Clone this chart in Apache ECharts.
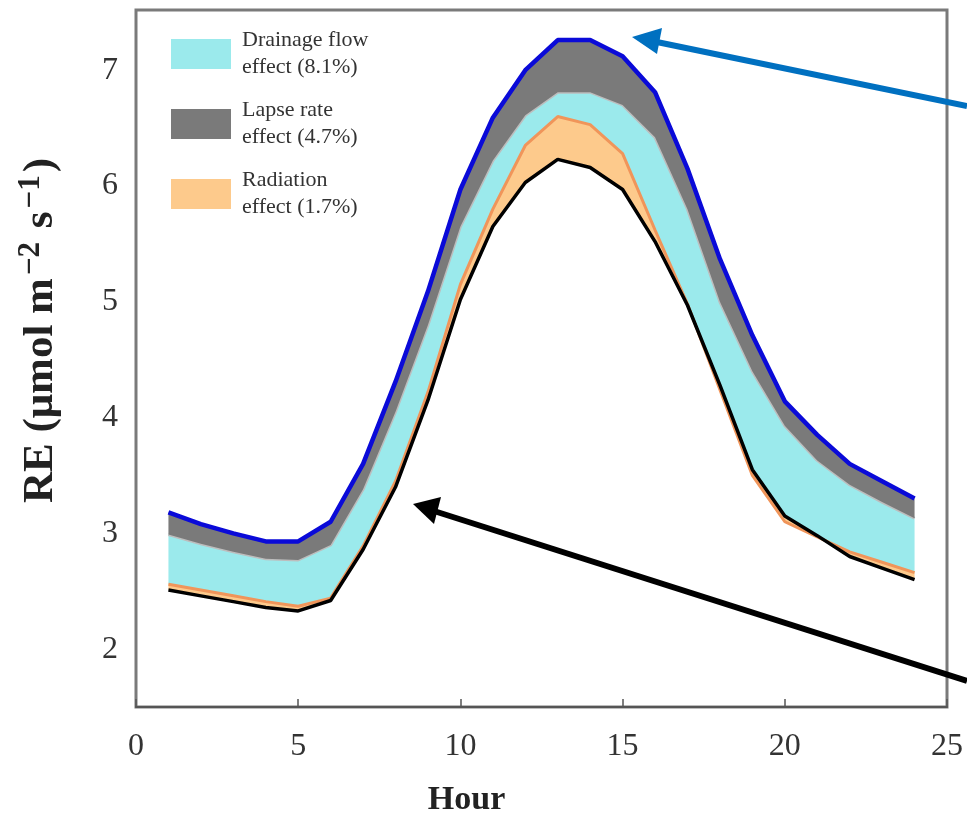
<!DOCTYPE html>
<html>
<head>
<meta charset="utf-8">
<script src="https://cdn.jsdelivr.net/npm/echarts@6/dist/echarts.min.js"></script>
<style>
  html, body { margin: 0; padding: 0; background: #fff; }
  #re_chart { width: 967px; height: 818px; }
</style>
</head>
<body>
<div id="re_chart"></div>
<script>
//*************** data ***************
var hour_labels = ['0', '1', '2', '3', '4', '5', '6', '7', '8', '9', '10', '11', '12',
                   '13', '14', '15', '16', '17', '18', '19', '20', '21', '22', '23', '24', '25'];
var hours = [1, 2, 3, 4, 5, 6, 7, 8, 9, 10, 11, 12, 13, 14, 15, 16, 17, 18, 19, 20, 21, 22, 23, 24];
// bottom line (black)
var base_re = [2.51, 2.46, 2.41, 2.36, 2.33, 2.42, 2.86, 3.40, 4.15, 5.02, 5.65, 6.03, 6.23, 6.16, 5.97, 5.52, 4.97, 4.28, 3.55, 3.15, 2.98, 2.80, 2.70, 2.60];
// top of the radiation band (orange)
var radiation_re = [2.56, 2.51, 2.46, 2.41, 2.37, 2.44, 2.89, 3.45, 4.22, 5.15, 5.80, 6.35, 6.60, 6.53, 6.28, 5.62, 4.98, 4.24, 3.50, 3.10, 2.97, 2.84, 2.75, 2.66];
// top of the drainage flow band (light grey edge)
var drainage_re = [2.99, 2.91, 2.84, 2.78, 2.77, 2.90, 3.38, 4.05, 4.80, 5.65, 6.22, 6.61, 6.81, 6.81, 6.70, 6.42, 5.80, 5.00, 4.40, 3.93, 3.63, 3.42, 3.27, 3.13];
// top of the lapse rate band (blue)
var lapse_re = [3.18, 3.08, 3.00, 2.93, 2.93, 3.10, 3.60, 4.31, 5.09, 5.97, 6.59, 7.00, 7.26, 7.26, 7.12, 6.81, 6.15, 5.37, 4.71, 4.14, 3.85, 3.60, 3.45, 3.30];

var legend_names = ['Drainage flow\neffect (8.1%)', 'Lapse rate\neffect (4.7%)', 'Radiation\neffect (1.7%)'];
var y_ticks = [2, 3, 4, 5, 6, 7];

//*************** helpers ***************
// band thickness = upper edge - lower edge, stacked on the black base line
function diff(top, bottom) {
    return hours.map(function (h, i) { return [h, +(top[i] - bottom[i]).toFixed(3)]; });
}

var serif = '"Liberation Serif", "DejaVu Serif", serif';

function band(name, data, line_color, line_width, fill, z) {
    var s = {
        name: name,
        type: 'line',
        stack: 're',
        stackStrategy: 'all',
        data: data,
        symbol: 'none',
        itemStyle: {color: fill || line_color},
        lineStyle: {color: line_color, width: line_width},
        z: z
    };
    if (fill) {
        s.areaStyle = {color: fill, opacity: 1};
    }
    return s;
}

//*************** chart ***************
var re_chart = echarts.init(document.getElementById('re_chart'));

re_chart.setOption({
    animation: false,
    backgroundColor: '#fff',
    grid: {
        left: 136, right: 20, top: 10, bottom: 111,
        outerBoundsMode: 'none',
        show: true,
        borderColor: '#7a7a7a',
        borderWidth: 3
    },
    legend: {
        orient: 'vertical',
        left: 166,
        top: 22,
        z: 20,
        icon: 'rect',
        itemWidth: 60,
        itemHeight: 30,
        itemGap: 16,
        textStyle: {fontFamily: serif, fontSize: 22, color: '#333', lineHeight: 27, padding: [0, 0, 0, 6]},
        data: [
            {name: legend_names[0], itemStyle: {color: '#9beaec', borderWidth: 0}, lineStyle: {width: 0}},
            {name: legend_names[1], itemStyle: {color: '#7a7a7a', borderWidth: 0}, lineStyle: {width: 0}},
            {name: legend_names[2], itemStyle: {color: '#fdca8c', borderWidth: 0}, lineStyle: {width: 0}}
        ]
    },
    xAxis: {
        type: 'category',
        data: hour_labels,
        boundaryGap: false,
        z: 10,
        name: 'Hour',
        nameLocation: 'middle',
        nameGap: 76,
        nameTextStyle: {fontFamily: serif, fontSize: 34, fontWeight: 'bold', color: '#222', padding: [0, 150, 0, 0]},
        axisLine: {lineStyle: {color: '#555', width: 2}},
        axisTick: {inside: true, length: 8, interval: 4, lineStyle: {color: '#555', width: 1.5}},
        axisLabel: {fontFamily: serif, fontSize: 32, color: '#333', margin: 24, interval: 4},
        splitLine: {show: false}
    },
    yAxis: {
        type: 'value',
        min: 1.5, max: 7.52,
        z: 10,
        name: 'RE (\u03bcmol m{sup|\u22122} s{sup|\u22121})',
        nameLocation: 'middle',
        nameGap: 70,
        nameRotate: 90,
        nameTextStyle: {
            fontFamily: serif, fontSize: 43, fontWeight: 'bold', color: '#222',
            padding: [0, 0, 0, 56],
            rich: {sup: {fontFamily: serif, fontSize: 31, fontWeight: 'bold', color: '#222', verticalAlign: 'top', padding: [0, 3, 20, 3]}}
        },
        axisLine: {lineStyle: {color: '#555', width: 2}},
        axisTick: {inside: true, length: 8, customValues: y_ticks, lineStyle: {color: '#555', width: 1.5}},
        axisLabel: {fontFamily: serif, fontSize: 32, color: '#333', margin: 18, customValues: y_ticks},
        splitLine: {show: false}
    },
    series: [
        band('base', hours.map(function (h, i) { return [h, base_re[i]]; }), '#000', 3.5, null, 6),
        band(legend_names[2], diff(radiation_re, base_re), '#f0955a', 3, '#fdca8c', 4),
        band(legend_names[0], diff(drainage_re, radiation_re), '#bdbdbd', 3, '#9beaec', 3),
        band(legend_names[1], diff(lapse_re, drainage_re), '#0a0ad8', 4.5, '#7a7a7a', 5)
    ],
    // annotation arrows
    graphic: [
        {type: 'line', shape: {x1: 967, y1: 106, x2: 652, y2: 41}, style: {stroke: '#0070c0', lineWidth: 6}, z: 20},
        {type: 'polygon', shape: {points: [[632, 37], [662, 28], [657, 54]]}, style: {fill: '#0070c0'}, z: 20},
        {type: 'line', shape: {x1: 967, y1: 681, x2: 434, y2: 511}, style: {stroke: '#000', lineWidth: 6}, z: 20},
        {type: 'polygon', shape: {points: [[413, 504], [441, 497], [434, 524]]}, style: {fill: '#000'}, z: 20}
    ]
});

window.addEventListener('resize', function () { re_chart.resize(); });
</script>
</body>
</html>
